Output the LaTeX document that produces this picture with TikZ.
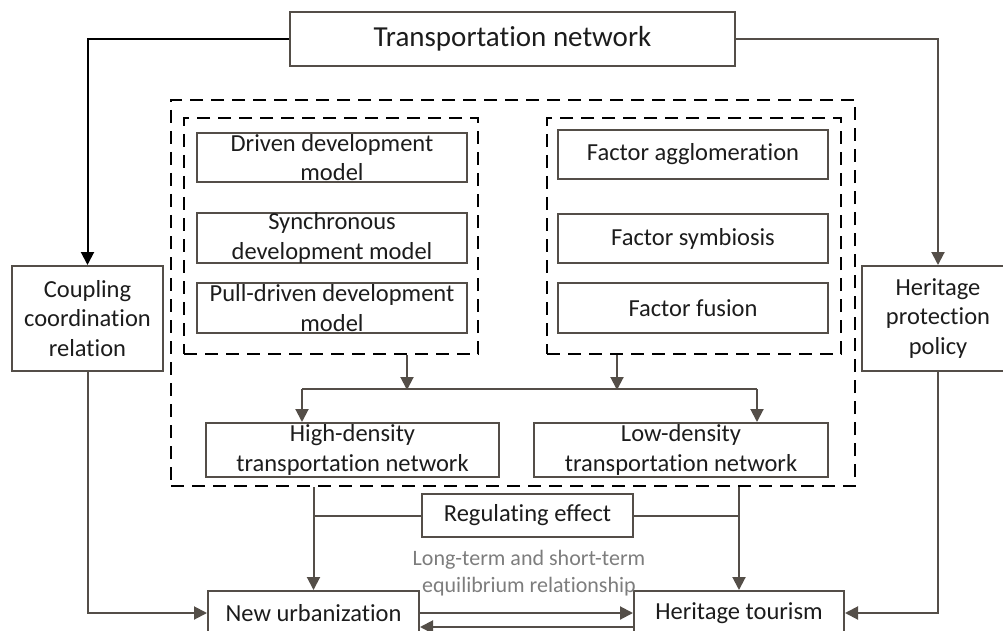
\documentclass[tikz,border=0pt]{standalone}
\usepackage{fontspec}
\setmainfont{Carlito}[Ligatures=NoCommon]
\usetikzlibrary{arrows.meta}
\definecolor{boxline}{RGB}{84,78,72}
\definecolor{boxtext}{RGB}{28,28,28}
\definecolor{notegray}{RGB}{125,125,125}

\begin{document}
\begin{tikzpicture}[x=1pt,y=-1pt]
\useasboundingbox (0,0) rectangle (1003,631);

% dashed frames
\begin{scope}[every node/.style={rectangle,draw=black,line width=2pt,dash pattern=on 13pt off 8pt,inner sep=0pt}]
    \node (outer) at (513,293) [minimum width=684pt, minimum height=386pt] {};
    \node (modelgrp) at (331,236) [minimum width=294pt, minimum height=236pt] {};
    \node (factorgrp) at (694,236) [minimum width=294pt, minimum height=236pt] {};
\end{scope}

\begin{scope}[every node/.style={rectangle,draw=boxline,line width=2pt,text=boxtext,align=center,inner sep=0pt,font=\fontsize{24.5}{29.5}\selectfont}]
    \node (transnet) at (512.5,39) [minimum width=445pt, minimum height=54pt, font=\fontsize{29}{34}\selectfont] {Transportation network};
    \node (coupling) at (87.5,318.5) [minimum width=151pt, minimum height=105pt] {Coupling\\coordination\\relation};
    \node (policy) at (938,318.5) [minimum width=152pt, minimum height=105pt] {Heritage\\protection\\policy};

    \node (driven) at (332,157.5) [minimum width=270pt, minimum height=49pt] {Driven development\\model};
    \node (sync) at (332,238) [minimum width=270pt, minimum height=50pt] {Synchronous\\development model};
    \node (pull) at (332,308) [minimum width=270pt, minimum height=50pt] {Pull-driven development\\model};

    \node (agglo) at (693,154.5) [minimum width=270pt, minimum height=49pt] {Factor agglomeration};
    \node (symb) at (693,238.5) [minimum width=270pt, minimum height=49pt] {Factor symbiosis};
    \node (fusion) at (693,308) [minimum width=270pt, minimum height=50pt] {Factor fusion};

    \node (highden) at (352.5,450) [minimum width=293pt, minimum height=54pt] {High-density\\transportation network};
    \node (lowden) at (681,450) [minimum width=294pt, minimum height=54pt] {Low-density\\transportation network};

    \node (regul) at (527.5,515.5) [minimum width=211pt, minimum height=43pt] {Regulating effect};
    \node (newurb) at (313.5,613) [minimum width=211pt, minimum height=44pt] {New urbanization};
    \node (herittour) at (739,613) [minimum width=210pt, minimum height=44pt] {Heritage tourism};
\end{scope}

\node (eqnote) at (529,573.5) [text=notegray, align=center, font=\fontsize{22}{27}\selectfont] {Long-term and short-term\\equilibrium relationship};

\coordinate (hdjoin) at (302,389);
\coordinate (ldjoin) at (757,389);

\begin{scope}[>={Triangle[length=13pt,width=13pt]}, line width=2pt, color=boxline]
    \draw [->, black] (transnet.west) -| (coupling.north);
    \draw [->] (transnet.east) -| (policy.north);

    \draw [->] ([xshift=76pt]modelgrp.south) -- ++(0,35);
    \draw [->] ([xshift=-77pt]factorgrp.south) -- ++(0,35);
    \draw (hdjoin) -- (ldjoin);
    \draw [->] (hdjoin) -- (hdjoin |- highden.north);
    \draw [->] (ldjoin) -- (ldjoin |- lowden.north);

    \draw [->] (outer.south -| newurb.north) -- (newurb.north);
    \draw [->] (outer.south -| herittour.north) -- (herittour.north);
    \draw (regul.west) -- (regul.west -| newurb.north);
    \draw (regul.east) -- (regul.east -| herittour.north);

    \draw [->] (coupling.south) |- (newurb.west);
    \draw [->] (policy.south) |- (herittour.east);
    \draw [->] (newurb.east) -- (herittour.west);
    \draw [->] ([yshift=-14pt]herittour.west) -- ([yshift=-14pt]newurb.east);
\end{scope}
\end{tikzpicture}
\end{document}
